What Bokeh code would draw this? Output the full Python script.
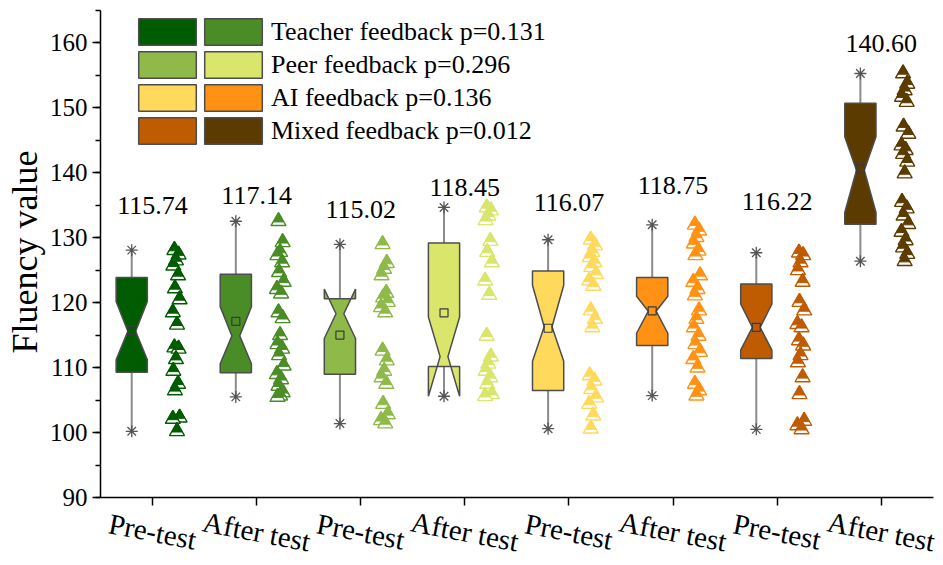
import math
from bokeh.plotting import figure
from bokeh.models import (Range1d, FixedTicker, SingleIntervalTicker, LabelSet, Title,
                          ColumnDataSource, Legend, LegendItem)
from bokeh.core.properties import value
from bokeh.embed import file_html
from bokeh.resources import INLINE

# ---------------- data ----------------
feedback_types = ["Teacher feedback", "Peer feedback", "AI feedback", "Mixed feedback"]
p_values = ["0.131", "0.296", "0.136", "0.012"]
test_labels = ["Pre-test", "After test", "Pre-test", "After test",
               "Pre-test", "After test", "Pre-test", "After test"]
group_colors = ["#005c00", "#4a8c26", "#8fba4a", "#d9e66b",
                "#ffd95c", "#ff9214", "#bf5b00", "#5c3b00"]

means      = [115.74, 117.14, 115.02, 118.45, 116.07, 118.75, 116.22, 140.60]
whisker_hi = [128.1, 132.55, 129.0, 134.67, 129.7, 132.0, 127.7, 155.3]
whisker_lo = [100.2, 105.5, 101.4, 105.6, 100.6, 105.7, 100.5, 126.4]
q3         = [123.9, 124.4, 120.6, 129.2, 124.9, 123.9, 122.9, 150.7]
q1         = [109.3, 109.2, 109.0, 110.2, 106.5, 113.4, 111.4, 132.1]
medians    = [115.6, 114.9, 118.3, 111.7, 116.3, 118.7, 116.2, 140.4]
notch_hi   = [120.2, 119.4, 122.1, 117.8, 122.7, 121.0, 119.8, 145.55]
notch_lo   = [111.2, 110.6, 114.5, 105.6, 111.0, 115.3, 112.7, 133.9]

pts_teacher_pre = [128.1, 127.4, 126.5, 125.7, 124.2, 122.2, 120.5, 118.5, 116.6, 113.1,
                   112.9, 111.3, 109.5, 107.5, 106.5, 102.3, 102.1, 100.2]
pts_teacher_post = [132.55, 129.3, 127.8, 127.3, 126.2, 124.7, 123.2, 122.1, 121.4, 118.5,
                    117.6, 115.0, 113.6, 112.9, 111.9, 110.3, 109.0, 108.2, 107.2, 106.2,
                    105.7, 105.5]
pts_peer_pre = [129.0, 126.1, 125.2, 124.2, 121.5, 120.8, 120.1, 119.3, 118.5, 112.6,
                111.1, 109.5, 108.5, 107.5, 104.4, 102.8, 101.9, 101.4]
pts_peer_post = [134.67, 134.2, 133.4, 132.7, 129.5, 127.8, 126.2, 123.4, 121.2, 114.9,
                 111.7, 110.6, 109.5, 108.5, 107.5, 105.9, 105.6]
pts_ai_pre = [129.7, 128.8, 127.8, 127.0, 126.2, 125.5, 124.4, 123.4, 122.6, 118.8,
              117.5, 116.2, 108.8, 108.0, 106.7, 105.4, 104.4, 102.6, 100.6]
pts_ai_post = [132.0, 131.1, 130.1, 129.1, 128.0, 127.3, 124.2, 123.2, 122.1, 121.1,
               118.8, 117.5, 116.2, 114.9, 113.6, 112.4, 111.3, 110.0, 107.5, 106.5, 105.7]
pts_mixed_pre = [127.7, 127.3, 126.2, 125.0, 123.2, 120.1, 118.8, 116.7, 116.2, 114.2,
                 113.4, 111.9, 110.8, 108.5, 105.9, 101.8, 101.1, 100.5]
pts_mixed_post = [155.3, 153.7, 152.7, 151.7, 150.9, 147.1, 146.0, 144.2, 143.5, 142.9,
                  141.7, 139.9, 135.5, 134.5, 133.4, 132.1, 130.9, 129.6, 128.5, 127.5, 126.4]
points = [pts_teacher_pre, pts_teacher_post, pts_peer_pre, pts_peer_post,
          pts_ai_pre, pts_ai_post, pts_mixed_pre, pts_mixed_post]

# ---------------- layout / style constants ----------------
FONT = "Liberation Serif"
Y_AXIS_MIN, Y_AXIS_MAX = 90, 165      # drawn axis extent
Y_VIEW_MIN = 80                        # frame extends below axis to hold tick labels
X_AXIS_MIN, X_AXIS_MAX = 0.5, 8.5
X_VIEW_MAX = 8.56
PX_PER_UNIT = 487 / (Y_AXIS_MAX - Y_AXIS_MIN)
FRAME_H = round((Y_AXIS_MAX - Y_VIEW_MIN) * PX_PER_UNIT)
FRAME_W = round((X_VIEW_MAX - X_AXIS_MIN) * 833 / (X_AXIS_MAX - X_AXIS_MIN))
BORDER_L, BORDER_T = 100, 10
BOX_SHIFT = -0.2
PTS_SHIFT = 0.21
BOX_W = 0.30
WAIST = 0.25
JITTER = (0.0, 0.04, 0.015, -0.01, 0.035, 0.005, 0.05, -0.015, 0.025)
TRI_SIZE = 15
TRI_INNER = 0.72
LABEL_OFFSET = 18
TITLE_TOP_OFFSET = 140     # px from frame top to the end of the rotated y title

positions = list(range(1, len(means) + 1))

p = figure(frame_width=FRAME_W, frame_height=FRAME_H,
           x_range=Range1d(X_AXIS_MIN, X_VIEW_MAX), y_range=Range1d(Y_VIEW_MIN, Y_AXIS_MAX),
           x_axis_location="above",
           output_backend="svg", toolbar_location=None,
           min_border_left=BORDER_L, min_border_right=0,
           min_border_top=BORDER_T, min_border_bottom=0)
p.outline_line_color = None
p.grid.visible = False
p.background_fill_color = "white"

# whiskers
wx = [x + BOX_SHIFT for x in positions]
p.segment(x0=wx, y0=whisker_lo, x1=wx, y1=whisker_hi, line_color="#8c8c8c", line_width=2)

# notched boxes
xs, ys = [], []
for i, x in enumerate(wx):
    xl, xr = x - BOX_W / 2, x + BOX_W / 2
    d = BOX_W * (1 - WAIST) / 2
    xs.append([xl, xl, xl + d, xl, xl, xr, xr, xr - d, xr, xr])
    ys.append([q1[i], notch_lo[i], medians[i], notch_hi[i], q3[i],
               q3[i], notch_hi[i], medians[i], notch_lo[i], q1[i]])
box_src = ColumnDataSource(dict(xs=xs, ys=ys, color=group_colors))
box_r = p.patches("xs", "ys", source=box_src, fill_color="color",
                  line_color="#4d4d4d", line_width=1.5)

# whisker caps and means
p.scatter(wx + wx, whisker_hi + whisker_lo, marker="asterisk", size=12,
          line_color="#555555", line_width=1.3)
p.scatter(wx, means, marker="square", size=8, fill_color=None,
          line_color="#3a3a3a", line_width=1.2)

# data points: triangles with coloured top and white lower band
dy = (1 - TRI_INNER) * TRI_SIZE / math.sqrt(3) / PX_PER_UNIT
for i, vals in enumerate(points):
    px = [positions[i] + PTS_SHIFT + JITTER[j % len(JITTER)] for j in range(len(vals))]
    p.scatter(px, vals, marker="triangle", size=TRI_SIZE, fill_color="white",
              line_color=group_colors[i], line_width=1.4)
    p.scatter(px, [v + dy for v in vals], marker="triangle", size=TRI_SIZE * TRI_INNER,
              fill_color=group_colors[i], line_color=group_colors[i], line_width=1)

# mean labels
mean_src = ColumnDataSource(dict(x=positions, y=[m + LABEL_OFFSET for m in means],
                                 text=[f"{m:.2f}" for m in means]))
p.add_layout(LabelSet(x="x", y="y", text="text", source=mean_src, text_align="center",
                      text_baseline="alphabetic", text_font=value(FONT),
                      text_font_size=value("26px"), text_color="black"))

# x tick labels (rotated, centred under ticks)
xl_src = ColumnDataSource(dict(x=positions, y=[Y_AXIS_MIN] * len(positions), text=test_labels))
p.add_layout(LabelSet(x="x", y="y", text="text", source=xl_src, y_offset=-34,
                      angle=-0.19, text_align="center", text_baseline="middle",
                      text_font=value(FONT), text_font_size=value("29px"),
                      text_color="black"))

# x axis drawn at y = 90 inside the frame, ticks pointing down
xax = p.xaxis[0]
xax.fixed_location = Y_AXIS_MIN
xax.bounds = (X_AXIS_MIN, X_AXIS_MAX)
xax.ticker = FixedTicker(ticks=positions, minor_ticks=[])
xax.major_label_overrides = {x: "" for x in positions}
xax.major_label_text_font_size = "1px"
xax.major_label_standoff = 0
xax.axis_line_color = "black"
xax.axis_line_width = 1.5
xax.major_tick_line_color = "black"
xax.major_tick_line_width = 1.5
xax.major_tick_in = 8
xax.major_tick_out = 0
xax.minor_tick_line_color = None

yax = p.yaxis[0]
yax.bounds = (Y_AXIS_MIN, Y_AXIS_MAX)
yax.ticker = SingleIntervalTicker(interval=10, num_minor_ticks=2)
yax.axis_line_color = "black"
yax.axis_line_width = 1.5
yax.major_tick_line_color = "black"
yax.major_tick_line_width = 1.5
yax.major_tick_in = 0
yax.major_tick_out = 8
yax.minor_tick_line_color = "black"
yax.minor_tick_line_width = 1.5
yax.minor_tick_in = 0
yax.minor_tick_out = 5
yax.major_label_text_font = FONT
yax.major_label_text_font_size = "25px"
yax.major_label_text_color = "black"
yax.major_label_standoff = 5

# y axis title
p.add_layout(Title(text="Fluency value", align="right", offset=TITLE_TOP_OFFSET, standoff=4,
                   text_font=FONT, text_font_size="36px", text_font_style="normal",
                   text_color="black"), "left")

# legend: two swatch columns
GLYPH_W, GLYPH_H = 72, 33
LEG_TOP_GAP = 5
leg_y = FRAME_H - LEG_TOP_GAP - 4 * GLYPH_H
legend_style = dict(glyph_width=GLYPH_W, glyph_height=GLYPH_H, padding=0, spacing=0,
                    margin=0, background_fill_alpha=0, border_line_alpha=0,
                    label_text_font=FONT, label_text_font_size="26px",
                    label_text_color="black", label_standoff=2)
leg_a = Legend(items=[LegendItem(label=" ", renderers=[box_r], index=2 * i)
                      for i in range(4)],
               location=(31, leg_y), label_width=0, **legend_style)
leg_b = Legend(items=[LegendItem(label=f"{feedback_types[i]} p={p_values[i]}",
                                 renderers=[box_r], index=2 * i + 1) for i in range(4)],
               location=(97, leg_y), **legend_style)
p.add_layout(leg_a)
p.add_layout(leg_b)

open("out.html", "w").write(file_html(p, INLINE))
